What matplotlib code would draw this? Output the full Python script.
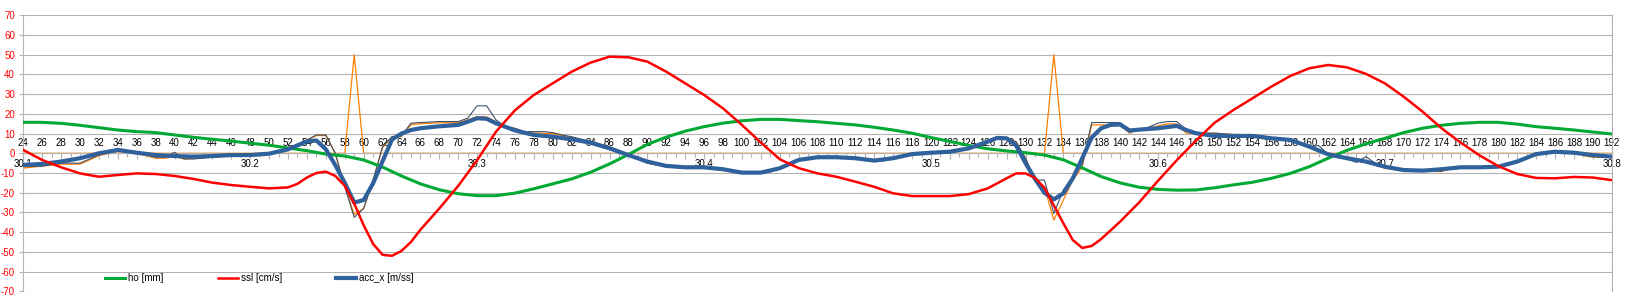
import numpy as np
import matplotlib.pyplot as plt

plt.rcParams['font.family'] = ['Liberation Sans', 'DejaVu Sans']
plt.rcParams['axes.unicode_minus'] = False

# ho [mm]
ho_x = [24, 26, 28, 30, 32, 34, 36, 38, 40, 42, 44, 46, 48, 50, 52, 54, 56, 58, 60, 62,
        64, 66, 68, 70, 72, 74, 76, 78, 80, 82, 84, 86, 88, 90, 92, 94, 96, 98, 100, 102,
        104, 106, 108, 110, 112, 114, 116, 118, 120, 122, 124, 126, 128, 130, 132, 134, 136, 138, 140, 142,
        144, 146, 148, 150, 152, 154, 156, 158, 160, 162, 164, 166, 168, 170, 172, 174, 176, 178, 180, 182,
        184, 186, 188, 190, 192]
ho_y = [15.7, 15.7, 15.2, 14.2, 13.0, 11.8, 11.0, 10.5, 9.3, 8.1, 7.1, 6.2, 5.1, 4.1, 2.7, 1.3, -0.4, -1.4, -3.4, -7.0,
        -11.5, -15.5, -18.5, -20.5, -21.5, -21.5, -20.2, -18.0, -15.5, -13.0, -9.6, -5.4, -0.6, 4.5, 8.2, 11.2, 13.5, 15.3, 16.5, 17.2,
        17.2, 16.6, 16.0, 15.2, 14.4, 13.2, 11.8, 10.2, 8.0, 6.0, 4.0, 2.3, 1.2, 0.3, -0.9, -3.3, -7.4, -11.8, -15.0, -17.2,
        -18.3, -18.7, -18.6, -17.5, -16.0, -14.7, -12.7, -10.2, -6.8, -2.5, 1.5, 4.8, 7.6, 10.5, 12.7, 14.2, 15.2, 15.7, 15.7, 14.8,
        13.5, 12.7, 11.8, 10.8, 9.8]

# ssl [cm/s]
ssl_x = [24, 26, 28, 30, 32, 34, 36, 38, 40, 42, 44, 46, 48, 50, 52, 53, 54, 55, 56, 57,
         58, 59, 60, 61, 62, 63, 64, 65, 66, 68, 70, 72, 74, 76, 78, 80, 82, 84, 86, 88,
         90, 92, 94, 96, 98, 100, 102, 104, 106, 108, 110, 112, 114, 116, 118, 120, 122, 124, 126, 128,
         129, 130, 131, 132, 133, 134, 135, 136, 137, 138, 140, 142, 144, 146, 148, 150, 152, 154, 156, 158,
         160, 162, 164, 166, 168, 170, 172, 174, 176, 178, 180, 182, 184, 186, 188, 190, 192]
ssl_y = [1.7, -3.4, -7.1, -10.2, -11.9, -11.0, -10.2, -10.5, -11.5, -13.0, -14.9, -16.1, -17.0, -17.8, -17.3, -15.5, -12.3, -10.0, -9.3, -11.5,
         -16.5, -25.5, -36.5, -46.0, -51.5, -52.0, -49.5, -45.0, -38.8, -28.0, -16.5, -3.5, 11.0, 21.8, 29.6, 35.5, 41.4, 46.0, 49.0, 48.7,
         46.5, 41.4, 35.5, 29.6, 22.8, 14.4, 5.5, -3.0, -7.5, -10.2, -11.9, -14.4, -17.0, -20.3, -21.7, -21.7, -21.7, -20.7, -17.8, -12.7,
         -10.2, -10.2, -12.5, -17.5, -26.5, -35.5, -44.0, -48.0, -47.0, -43.5, -34.7, -25.0, -14.0, -3.5, 6.3, 15.5, 22.0, 27.9, 33.8, 39.2,
         43.1, 44.8, 43.6, 40.3, 35.5, 28.7, 21.1, 12.7, 5.5, -1.0, -6.5, -10.5, -12.5, -12.7, -12.0, -12.3, -13.6]

# acc_x [m/ss] (smoothed)
acc_x = [24, 26, 28, 30, 32, 34, 36, 38, 40, 42, 44, 46, 48, 50, 52, 53, 54, 55, 56, 57,
         58, 59, 60, 61, 62, 63, 64, 65, 66, 68, 70, 71, 72, 73, 74, 76, 78, 80, 82, 84,
         86, 88, 90, 92, 94, 96, 98, 100, 102, 104, 106, 108, 110, 112, 114, 116, 118, 120, 122, 124,
         126, 127, 128, 129, 130, 131, 132, 133, 134, 135, 136, 137, 138, 139, 140, 141, 142, 144, 146, 147,
         148, 150, 152, 154, 156, 158, 160, 162, 164, 166, 168, 170, 172, 174, 176, 178, 180, 182, 184, 186,
         188, 190, 192]
acc_y = [-5.9, -5.4, -4.2, -2.5, 0.0, 1.7, 0.3, -0.9, -1.4, -1.7, -1.4, -0.9, -0.9, -0.2, 2.0, 4.0, 6.0, 6.5, 2.0, -6.0,
         -15.0, -25.0, -23.7, -15.2, -4.0, 7.0, 10.0, 11.8, 12.7, 13.7, 14.4, 16.0, 17.8, 17.5, 15.2, 11.6, 9.3, 8.4, 7.1, 5.4,
         2.5, -0.9, -4.2, -6.4, -7.1, -7.1, -8.1, -9.8, -9.8, -7.6, -3.4, -2.0, -2.0, -2.5, -3.7, -2.5, -0.4, 0.3, 0.8, 2.5,
         5.9, 7.8, 7.6, 4.0, -5.0, -13.0, -20.0, -23.4, -20.3, -12.7, -2.5, 8.0, 12.7, 14.4, 14.6, 11.5, 12.0, 12.7, 13.9, 11.8,
         10.2, 8.8, 8.8, 8.8, 7.6, 6.8, 3.4, -0.5, -2.5, -4.2, -6.8, -8.5, -8.8, -8.1, -7.1, -7.1, -6.8, -4.2, -0.4, 0.8,
         0.3, -0.9, -1.7]

# raw acceleration (thin dark line)
raw_x = [24, 26, 28, 30, 32, 34, 36, 38, 39, 40, 41, 42, 44, 46, 48, 50, 52, 54, 55, 56,
         57, 58, 59, 60, 61, 62, 63, 64, 65, 66, 68, 70, 71, 72, 73, 74, 75, 76, 77, 79,
         80, 81, 82, 84, 86, 88, 90, 92, 94, 96, 98, 100, 102, 103, 104, 106, 108, 110, 112, 114,
         115, 116, 118, 120, 122, 124, 126, 127, 128, 129, 130, 131, 132, 133, 134, 135, 136, 137, 140, 141,
         142, 143, 144, 145, 146, 147, 148, 150, 152, 154, 156, 158, 160, 161, 162, 163, 164, 165, 166, 167,
         168, 170, 172, 174, 175, 178, 180, 181, 182, 184, 186, 188, 189, 190, 192]
raw_y = [-6.8, -6.5, -5.0, -5.0, -0.8, 1.4, 0.5, -2.0, -2.0, 0.5, -2.9, -2.9, -2.0, -1.2, -0.8, 0.0, 2.5, 6.8, 9.3, 9.3,
         0.0, -17.0, -32.5, -28.0, -13.6, 3.4, 8.5, 8.8, 15.3, 15.6, 16.1, 16.1, 17.8, 24.1, 24.1, 16.9, 13.6, 12.7, 11.0, 11.0,
         10.5, 9.3, 8.4, 6.0, 3.4, -0.5, -5.0, -6.8, -7.6, -7.6, -8.5, -10.2, -10.2, -9.5, -7.6, -3.4, -2.0, -2.0, -2.5, -4.2,
         -3.9, -2.5, -0.4, 0.3, 0.8, 2.5, 6.5, 8.5, 7.6, 5.9, -2.5, -13.6, -13.6, -30.5, -18.6, -11.9, -5.9, 15.6, 15.6, 12.2,
         12.2, 13.2, 15.3, 16.1, 16.1, 11.9, 10.2, 10.2, 9.5, 9.5, 8.0, 7.0, 3.4, 3.9, -0.5, -2.2, -2.9, -4.6, -1.7, -5.1,
         -7.3, -8.5, -9.0, -9.0, -7.3, -7.3, -6.8, -5.9, -3.9, -0.8, 0.8, 0.8, -0.8, -1.7, -1.7]

# second acceleration trace (thin orange line)
acc2_x = [24, 26, 28, 30, 32, 34, 36, 38, 39, 40, 41, 42, 44, 46, 48, 50, 52, 54, 55, 56,
          57, 58, 59, 60, 61, 62, 63, 64, 65, 66, 68, 70, 71, 72, 73, 74, 75, 76, 77, 80,
          82, 84, 86, 88, 90, 92, 94, 96, 98, 100, 102, 104, 106, 108, 110, 112, 114, 116, 118, 120,
          122, 124, 126, 127, 128, 129, 130, 131, 132, 133, 134, 135, 136, 137, 140, 141, 142, 143, 144, 145,
          146, 147, 150, 152, 154, 156, 158, 160, 162, 164, 166, 167, 168, 170, 174, 175, 178, 180, 182, 184,
          186, 188, 189, 190, 192]
acc2_y = [-7.5, -6.5, -5.5, -5.5, -1.2, 1.0, 0.0, -2.5, -2.5, -1.7, -2.9, -2.5, -2.0, -1.2, -0.8, 0.0, 2.5, 6.5, 9.0, 9.0,
          0.0, -17.0, -31.0, -28.0, -13.6, 3.0, 8.0, 8.5, 14.5, 15.0, 15.5, 15.5, 17.0, 18.5, 18.5, 16.0, 13.0, 12.0, 10.5, 10.0,
          8.0, 5.5, 3.0, -0.5, -5.0, -6.8, -7.6, -7.6, -8.5, -10.2, -10.2, -7.6, -3.4, -2.0, -2.0, -2.5, -4.0, -2.5, -0.4, 0.3,
          0.8, 2.5, 6.3, 8.0, 7.6, 5.9, -2.5, -13.6, -17.0, -33.9, -23.7, -13.6, -6.8, 14.4, 14.4, 10.2, 12.2, 12.7, 13.9, 14.9,
          14.9, 10.2, 10.2, 9.5, 9.5, 8.0, 7.0, 3.0, -0.5, -3.0, -4.6, -5.5, -7.6, -9.0, -9.3, -7.6, -7.6, -7.0, -4.0, -0.8,
          0.8, 0.8, -1.2, -2.0, -2.0]

# trigger signal
trig_x = [24, 58, 59, 60, 132, 133, 134, 192]
trig_y = [0, 0, 50, 0, 0, 50, 0, 0]

x_ticks = list(range(24, 193, 2))
time_ticks = [30.1, 30.2, 30.3, 30.4, 30.5, 30.6, 30.7, 30.8]
y_ticks = list(range(-70, 71, 10))

fig = plt.figure(figsize=(16.44, 3.04), dpi=100)
ax = fig.add_axes([0.01417, 0.0418, 0.9662, 0.9079])
ax.set_xlim(24, 192)
ax.set_ylim(-70, 70)

grid_c = '#b3b3b3'
ax.set_yticks(y_ticks)
ax.yaxis.grid(True, color=grid_c, linewidth=0.8)
ax.set_axisbelow(True)
ax.tick_params(axis='y', length=3, width=0.8, color=grid_c, labelcolor='#ff0000',
               labelsize=7, pad=3)

# category axis drawn along y = 0, labels above it
ax.spines['top'].set_position(('data', 0))
ax.spines['top'].set_color(grid_c)
ax.spines['bottom'].set_visible(False)
ax.spines['left'].set_color(grid_c)
ax.spines['right'].set_color(grid_c)
ax.xaxis.set_ticks_position('top')
ax.set_xticks(x_ticks)
ax.set_xticklabels([str(v) for v in x_ticks])
ax.set_xticks(range(24, 193), minor=True)
ax.tick_params(axis='x', which='major', direction='in', length=4, width=0.8,
               color=grid_c, labelsize=7, pad=4)
ax.tick_params(axis='x', which='minor', direction='in', length=3, width=0.8, color=grid_c)

# time axis below the zero line
t0, t1 = time_ticks[0], time_ticks[-1]
fwd = lambda v: t0 + (np.asarray(v) - 24) * (t1 - t0) / (192 - 24)
inv = lambda t: 24 + (np.asarray(t) - t0) * (192 - 24) / (t1 - t0)
sec = ax.secondary_xaxis(0.5, functions=(fwd, inv))
sec.set_alignment('bottom')
sec.spines['bottom'].set_visible(False)
sec.set_xticks(time_ticks)
sec.set_xticklabels(['%.1f' % t for t in time_ticks])
sec.tick_params(axis='x', length=0, labelsize=7, pad=4)

ax.plot(trig_x, trig_y, color='#ff8000', linewidth=0.9, zorder=2)
ax.plot(acc2_x, acc2_y, color='#ff8000', linewidth=0.9, zorder=2)
ax.plot(raw_x, raw_y, color='#3d5068', linewidth=0.8, zorder=3)
l_ho, = ax.plot(ho_x, ho_y, color='#00a933', linewidth=2.2, label='ho [mm]', zorder=4)
l_acc, = ax.plot(acc_x, acc_y, color='#2f619c', linewidth=3.0, label='acc_x [m/ss]', zorder=5)
l_ssl, = ax.plot(ssl_x, ssl_y, color='#ff0000', linewidth=1.8, label='ssl [cm/s]', zorder=6)

ax.legend(handles=[l_ho, l_ssl, l_acc], loc='center left', bbox_to_anchor=(0.0514, 0.048),
          ncol=3, frameon=False, fontsize=7, handlelength=2.06, handletextpad=0.3,
          columnspacing=5.6, borderpad=0, borderaxespad=0)

plt.savefig('out.png', dpi=100)
